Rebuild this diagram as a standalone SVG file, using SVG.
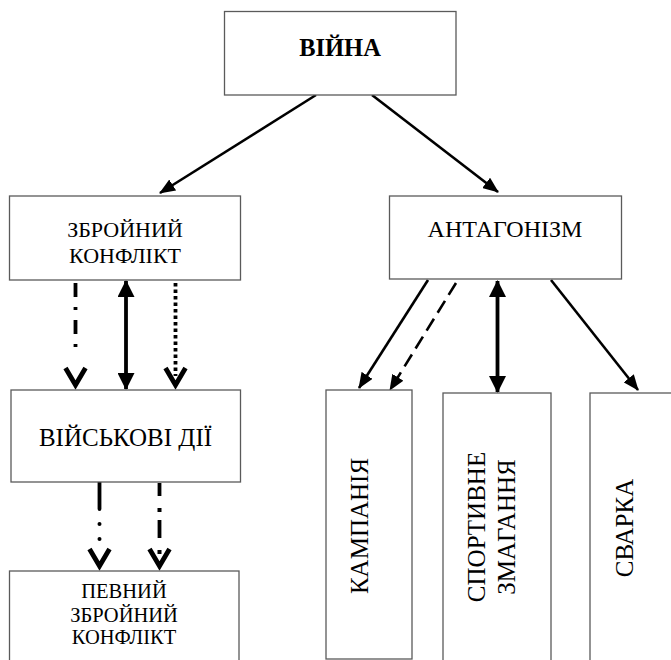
<svg xmlns="http://www.w3.org/2000/svg" width="671" height="660" viewBox="0 0 671 660">
<style>
  .box { fill: #fff; stroke: #5a5a5a; stroke-width: 1.3; }
  .t { fill: #000; text-anchor: middle; }
  .c { stroke: #000; fill: none; }
  .thin { stroke-width: 2.6; }
  .thick { stroke-width: 3.8; }
  .v { stroke: #000; stroke-width: 4.8; fill: none; stroke-linejoin: miter; }
</style>
<defs>
  <marker id="tri" viewBox="0 0 16 13" refX="15" refY="6.5" markerWidth="16" markerHeight="13" markerUnits="userSpaceOnUse" orient="auto">
    <path d="M0,0 L16,6.5 L0,13 z" fill="#000"/>
  </marker>
  <marker id="triBig" viewBox="0 0 17 17" refX="16" refY="8.5" markerWidth="17" markerHeight="17" markerUnits="userSpaceOnUse" orient="auto-start-reverse">
    <path d="M0,0 L17,8.5 L0,17 z" fill="#000"/>
  </marker>
</defs>

<g id="connectors">
  <line class="c thin" x1="316" y1="95" x2="160" y2="193" marker-end="url(#tri)"/>
  <line class="c thin" x1="372" y1="95" x2="498" y2="192" marker-end="url(#tri)"/>

  <line class="c thick" x1="75.5" y1="283" x2="75.5" y2="352" stroke-dasharray="14 10 3 10"/>
  <path class="v" d="M65.5,368 L75.5,385 L85.5,368"/>
  <line class="c thick" x1="126" y1="281" x2="126" y2="389" marker-start="url(#triBig)" marker-end="url(#triBig)"/>
  <line class="c thick" x1="175.5" y1="283" x2="175.5" y2="376" stroke-dasharray="3.5 3"/>
  <path class="v" d="M165.5,368 L175.5,385 L185.5,368"/>

  <line class="c thick" x1="99.5" y1="482" x2="99.5" y2="509" stroke-linecap="round"/>
  <circle cx="99.5" cy="524" r="2" fill="#000"/>
  <circle cx="99.5" cy="539" r="2" fill="#000"/>
  <path class="v" d="M89.5,549 L99.5,566 L109.5,549"/>
  <line class="c thick" x1="159.5" y1="483" x2="159.5" y2="496"/>
  <rect x="157.5" y="508" width="4" height="4" fill="#000"/>
  <line class="c thick" x1="159.5" y1="520" x2="159.5" y2="538"/>
  <rect x="157.5" y="550" width="4" height="4" fill="#000"/>
  <path class="v" d="M149.5,549 L159.5,566 L169.5,549"/>

  <line class="c thin" x1="428" y1="280" x2="359" y2="388" marker-end="url(#tri)"/>
  <line class="c thin" x1="456" y1="283" x2="390" y2="390" stroke-dasharray="14 7" marker-end="url(#tri)"/>
  <line class="c thick" x1="497.5" y1="281" x2="497.5" y2="392" marker-start="url(#triBig)" marker-end="url(#triBig)"/>
  <line class="c thin" x1="551" y1="280" x2="638" y2="390" marker-end="url(#tri)"/>
</g>

<g id="viyna">
  <rect class="box" x="224.5" y="11.5" width="231.5" height="83.5"/>
  <text class="t" x="340" y="56" font-size="24.5" font-weight="bold" font-family="Liberation Serif, serif">ВІЙНА</text>
</g>

<g id="zbroinyi-konflikt">
  <rect class="box" x="9.5" y="196" width="231" height="84"/>
  <text class="t" x="125" y="237" font-size="22" font-family="Liberation Serif, serif">ЗБРОЙНИЙ</text>
  <text class="t" x="125" y="263" font-size="22" font-family="Liberation Serif, serif">КОНФЛІКТ</text>
</g>

<g id="antagonizm">
  <rect class="box" x="389.5" y="196" width="232" height="83"/>
  <text class="t" x="505" y="237" font-size="24" font-family="Liberation Serif, serif">АНТАГОНІЗМ</text>
</g>

<g id="viiskovi-dii">
  <rect class="box" x="11" y="390" width="229.5" height="92"/>
  <text class="t" x="125.5" y="446" font-size="25" font-family="Liberation Serif, serif">ВІЙСЬКОВІ ДІЇ</text>
</g>

<g id="pevnyi-zbroinyi-konflikt">
  <rect class="box" x="9.5" y="571" width="229.5" height="120"/>
  <text class="t" x="124" y="598" font-size="20.5" font-family="Liberation Serif, serif">ПЕВНИЙ</text>
  <text class="t" x="124" y="621.5" font-size="20.5" font-family="Liberation Serif, serif">ЗБРОЙНИЙ</text>
  <text class="t" x="124" y="643.5" font-size="20.5" font-family="Liberation Serif, serif">КОНФЛІКТ</text>
</g>

<g id="kampaniia">
  <rect class="box" x="326" y="390" width="86" height="269"/>
  <text class="t" font-size="25" font-family="Liberation Serif, serif" transform="translate(368,526) rotate(-90)">КАМПАНІЯ</text>
</g>

<g id="sportyvne-zmagannia">
  <rect class="box" x="443" y="393" width="108" height="300"/>
  <text class="t" font-size="25" font-family="Liberation Serif, serif" transform="translate(485,527) rotate(-90)">СПОРТИВНЕ</text>
  <text class="t" font-size="25" font-family="Liberation Serif, serif" transform="translate(515,527) rotate(-90)">ЗМАГАННЯ</text>
</g>

<g id="svarka">
  <rect class="box" x="590" y="393" width="120" height="300"/>
  <text class="t" font-size="25" font-family="Liberation Serif, serif" transform="translate(633,528) rotate(-90)">СВАРКА</text>
</g>
</svg>
